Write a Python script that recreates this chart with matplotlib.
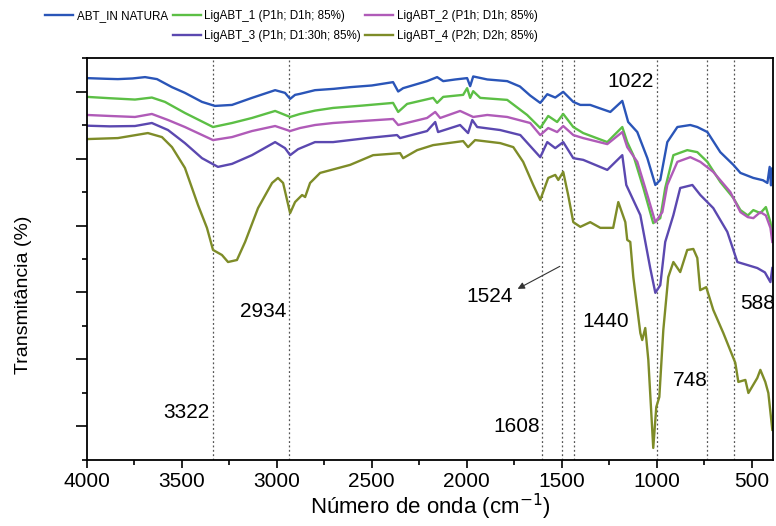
import matplotlib
matplotlib.use('Agg')
import matplotlib.pyplot as plt
from matplotlib.ticker import MultipleLocator
from matplotlib.lines import Line2D

plt.rcParams['font.family'] = ['Liberation Sans', 'DejaVu Sans']

# FTIR spectra, wavenumber (cm-1) / transmittance (arbitrary units, offset)
abt_w = [4000, 3900, 3837, 3760, 3694, 3631, 3552, 3484, 3394, 3326, 3236, 3131, 3009,
         2957, 2930, 2904, 2878, 2799, 2700, 2614, 2500, 2388, 2361, 2335, 2209, 2156,
         2124, 2060, 1998, 1982, 1966, 1892, 1787, 1720, 1666, 1613, 1576, 1534, 1492,
         1439, 1402, 1350, 1300, 1244, 1181, 1150, 1102, 1049, 1007, 981, 944, 891, 823,
         786, 733, 665, 596, 559, 491, 440, 417, 405, 398, 392]
abt_t = [11.40, 11.38, 11.37, 11.39, 11.43, 11.37, 11.13, 10.96, 10.69, 10.57, 10.60, 10.81, 11.04,
         10.96, 10.78, 10.90, 10.93, 11.04, 11.08, 11.13, 11.18, 11.28, 11.00, 11.10, 11.31, 11.43,
         11.31, 11.36, 11.40, 11.16, 11.45, 11.36, 11.31, 11.15, 10.88, 10.66, 10.92, 10.82, 10.99,
         10.69, 10.60, 10.60, 10.50, 10.39, 10.72, 10.09, 9.79, 9.01, 8.21, 8.36, 9.49, 9.94, 10.00,
         9.94, 9.79, 9.19, 8.81, 8.57, 8.42, 8.35, 8.27, 8.75, 8.20, 8.70]

lig1_w = [4000, 3880, 3747, 3658, 3589, 3484, 3336, 3236, 3131, 3009, 2930, 2878, 2799, 2704,
          2550, 2388, 2361, 2314, 2177, 2156, 2124, 2019, 1998, 1982, 1966, 1929, 1787, 1682,
          1613, 1571, 1524, 1492, 1439, 1387, 1260, 1181, 1155, 1123, 1070, 1018, 981, 955,
          912, 839, 786, 733, 665, 596, 559, 520, 491, 454, 425, 401, 391]
lig1_t = [10.84, 10.80, 10.76, 10.82, 10.69, 10.36, 9.94, 10.06, 10.21, 10.42, 10.24, 10.33, 10.43, 10.51,
          10.58, 10.66, 10.39, 10.63, 10.81, 10.66, 10.84, 10.90, 11.10, 10.81, 11.01, 10.81, 10.75, 10.30,
          9.91, 10.27, 10.09, 10.33, 9.94, 9.76, 9.49, 9.94, 9.49, 9.10, 8.12, 7.07, 7.22, 8.12,
          9.10, 9.25, 9.19, 8.90, 8.30, 7.82, 7.46, 7.30, 7.46, 7.37, 7.55, 7.10, 6.72]

lig2_w = [4000, 3880, 3747, 3658, 3573, 3484, 3336, 3236, 3131, 3009, 2930, 2878, 2799, 2704,
          2550, 2388, 2361, 2209, 2166, 2140, 2035, 1966, 1892, 1787, 1666, 1613, 1571, 1524,
          1492, 1439, 1387, 1260, 1181, 1155, 1102, 1049, 1007, 970, 944, 891, 823, 770, 702,
          612, 559, 520, 491, 454, 425, 401, 391]
lig2_t = [10.30, 10.27, 10.24, 10.33, 10.15, 9.94, 9.55, 9.64, 9.82, 9.97, 9.82, 9.91, 10.00, 10.06,
          10.12, 10.18, 10.00, 10.21, 10.39, 10.21, 10.42, 10.24, 10.30, 10.24, 10.06, 9.70, 9.91, 9.79,
          9.97, 9.70, 9.61, 9.43, 9.79, 9.34, 8.90, 7.91, 7.10, 7.40, 8.21, 8.90, 9.04, 8.90, 8.60,
          8.00, 7.40, 7.25, 7.22, 7.40, 7.30, 6.93, 6.51]

lig3_w = [4000, 3880, 3747, 3658, 3573, 3484, 3394, 3310, 3236, 3131, 3009, 2957, 2930, 2888,
          2799, 2704, 2525, 2367, 2351, 2209, 2166, 2151, 2035, 1993, 1971, 1945, 1824, 1718,
          1613, 1576, 1534, 1492, 1439, 1387, 1260, 1181, 1160, 1128, 1086, 1034, 1007, 981,
          955, 912, 876, 812, 770, 702, 628, 575, 522, 470, 430, 401, 391]
lig3_t = [9.98, 9.96, 9.97, 10.06, 9.85, 9.46, 9.01, 8.75, 8.84, 9.10, 9.49, 9.31, 9.10, 9.28,
          9.49, 9.49, 9.61, 9.70, 9.61, 9.82, 10.09, 9.79, 10.00, 9.76, 10.15, 9.94, 9.85, 9.70,
          9.04, 9.49, 9.31, 9.49, 9.01, 8.96, 8.66, 9.10, 8.21, 7.82, 7.31, 5.73, 4.99, 5.22,
          6.51, 7.31, 8.12, 8.21, 7.91, 7.52, 6.81, 5.91, 5.82, 5.73, 5.60, 5.31, 5.73]

lig4_w = [4000, 3837, 3679, 3605, 3552, 3484, 3415, 3368, 3336, 3289, 3257, 3210, 3167, 3099,
          3025, 2994, 2967, 2930, 2904, 2867, 2851, 2825, 2772, 2614, 2493, 2351, 2335, 2261,
          2177, 2019, 1993, 1956, 1824, 1755, 1703, 1650, 1613, 1571, 1534, 1518, 1492, 1466,
          1439, 1402, 1350, 1297, 1229, 1202, 1165, 1155, 1139, 1123, 1086, 1076, 1060, 1044,
          1018, 1002, 986, 965, 939, 912, 876, 839, 807, 786, 771, 739, 702, 649, 586, 570,
          533, 517, 470, 454, 428, 412, 391]
lig4_t = [9.58, 9.61, 9.76, 9.64, 9.34, 8.72, 7.61, 6.93, 6.27, 6.12, 5.91, 5.97, 6.51, 7.52,
          8.27, 8.42, 8.27, 7.37, 7.70, 7.91, 7.85, 8.27, 8.57, 8.81, 9.10, 9.16, 9.01, 9.25,
          9.40, 9.52, 9.34, 9.55, 9.46, 9.34, 8.90, 8.21, 7.76, 8.42, 8.51, 8.36, 8.60, 7.91,
          7.10, 6.96, 7.10, 6.93, 6.93, 7.70, 7.10, 6.57, 6.51, 5.46, 3.79, 3.58, 3.94, 2.99,
          0.36, 1.58, 1.88, 3.88, 5.46, 5.91, 5.61, 6.27, 6.30, 6.03, 5.07, 5.16, 4.48, 3.79, 2.90, 2.33,
          2.39, 2.00, 2.45, 2.69, 2.33, 2.00, 0.90]

labels = ['ABT_IN NATURA', 'LigABT_1 (P1h; D1h; 85%)', 'LigABT_2 (P1h; D1h; 85%)',
          'LigABT_3 (P1h; D1:30h; 85%)', 'LigABT_4 (P2h; D2h; 85%)']
colors = ['#2a55b8', '#5cbf45', '#b05bb8', '#5b48b0', '#7e8c28']

band_lines = [3336, 2936, 1603, 1497, 1434, 997, 733, 591]
band_text = ['3322', '2934', '1608', '1524', '1440', '1022', '748', '588']

fig = plt.figure(figsize=(7.76, 5.26), dpi=100)
ax = fig.add_axes([0.112, 0.1255, 0.884, 0.7642])

series = [(abt_w, abt_t), (lig1_w, lig1_t), (lig2_w, lig2_t), (lig3_w, lig3_t), (lig4_w, lig4_t)]
handles = []
for (w, t), lab, c in zip(series, labels, colors):
    h, = ax.plot(w, t, color=c, lw=1.7, label=lab)
    handles.append(h)

for b in band_lines:
    ax.axvline(b, color='#555555', ls=(0, (1.5, 2)), lw=0.9, zorder=0)

ax.set_xlim(4000, 388)
ax.set_ylim(0, 12)
ax.xaxis.set_major_locator(MultipleLocator(500))
ax.xaxis.set_minor_locator(MultipleLocator(250))
ax.yaxis.set_major_locator(MultipleLocator(2, offset=1))
ax.yaxis.set_minor_locator(MultipleLocator(2))
ax.set_yticklabels([])
ax.tick_params(axis='both', which='major', direction='out', length=6, width=1.2, labelsize=15)
ax.tick_params(axis='both', which='minor', direction='out', length=3.5, width=1.2)
ax.tick_params(axis='y', which='major', length=8)
ax.tick_params(axis='x', which='major', pad=2.5)
for s in ax.spines.values():
    s.set_linewidth(1.3)

ax.set_xlabel('Número de onda (cm$^{-1}$)', fontsize=16, labelpad=1)
ax.set_ylabel('Transmitância (%)', fontsize=14)
ax.yaxis.set_label_coords(-0.08, 0.41)

# band annotations
fs = 15
ax.text(3352, 1.43, band_text[0], ha='right', va='center', fontsize=fs)
ax.text(2951, 4.42, band_text[1], ha='right', va='center', fontsize=fs)
ax.text(1613, 0.99, band_text[2], ha='right', va='center', fontsize=fs)
ax.text(1882, 4.87, band_text[3], ha='center', va='center', fontsize=fs)
ax.annotate('', xy=(1745, 5.07), xytext=(1497, 5.82),
            arrowprops=dict(arrowstyle='-|>', color='#333333', lw=0.8, mutation_scale=10))
ax.text(1392, 4.12, band_text[4], ha='left', va='center', fontsize=fs)
ax.text(1260, 11.31, band_text[5], ha='left', va='center', fontsize=fs)
ax.text(913, 2.36, band_text[6], ha='left', va='center', fontsize=fs)
ax.text(559, 4.66, band_text[7], ha='left', va='center', fontsize=fs)

# legend: 3 columns, first column has a blank slot on the second row
blank = Line2D([], [], color='none')
leg_handles = [handles[0], blank, handles[1], handles[3], handles[2], handles[4]]
leg_labels = [labels[0], '', labels[1], labels[3], labels[2], labels[4]]
fig.legend(leg_handles, leg_labels, ncol=3, loc='upper left',
           bbox_to_anchor=(0.048, 0.997), frameon=False, fontsize=8.4,
           handlelength=2.4, handletextpad=0.3, columnspacing=0.4,
           labelspacing=0.75, borderpad=0.2)

fig.savefig('out.png', dpi=100)
